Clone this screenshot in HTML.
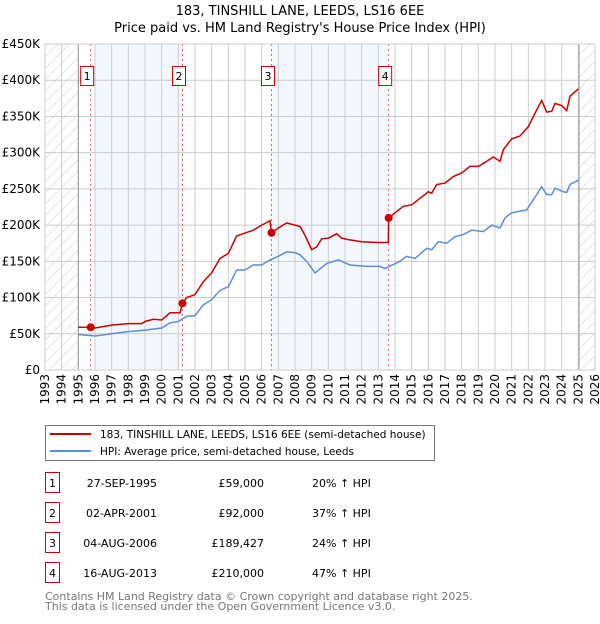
<!DOCTYPE html>
<html><head><meta charset="utf-8"><style>
body{margin:0;background:#fff;font-family:"DejaVu Sans","Liberation Sans",sans-serif;}
svg text{font-family:"DejaVu Sans","Liberation Sans",sans-serif;}
</style></head><body>
<svg id="chart" width="600" height="620" xmlns="http://www.w3.org/2000/svg">
<defs><pattern id="hatch" width="8" height="8" patternUnits="userSpaceOnUse" patternTransform="rotate(45)"><line x1="0" y1="0" x2="0" y2="8" stroke="#ccc" stroke-width="1"/></pattern></defs>
<text x="300" y="15" text-anchor="middle" font-size="13">183, TINSHILL LANE, LEEDS, LS16 6EE</text>
<text x="300" y="32" text-anchor="middle" font-size="13">Price paid vs. HM Land Registry's House Price Index (HPI)</text>
<g id="plot"></g>
<g>
<rect x="45.5" y="425.5" width="389" height="35" fill="#fff" stroke="#777"/>
<line x1="50" y1="434" x2="91" y2="434" stroke="#cc0000" stroke-width="2"/>
<text x="100" y="438" font-size="10.5">183, TINSHILL LANE, LEEDS, LS16 6EE (semi-detached house)</text>
<line x1="50" y1="451" x2="91" y2="451" stroke="#5b8fd4" stroke-width="2"/>
<text x="100" y="455" font-size="10.5">HPI: Average price, semi-detached house, Leeds</text>
</g>
<g id="table" font-size="11"></g>
<text x="45" y="600" font-size="11" fill="#777">Contains HM Land Registry data © Crown copyright and database right 2025.</text>
<text x="45" y="610" font-size="11" fill="#777">This data is licensed under the Open Government Licence v3.0.</text>
</svg>
<script>
const hpiYears=[1995,1996,1997,1998,1999,2000,2000.5,2001,2001.5,2002,2002.5,2003,2003.5,2004,2004.5,2005,2005.5,2006,2006.5,2007,2007.5,2008,2008.3,2008.7,2009.2,2009.9,2010.6,2011.3,2012.3,2013.1,2013.4,2014.3,2014.7,2015.2,2015.9,2016.2,2016.6,2017.1,2017.6,2018.1,2018.6,2019.3,2019.8,2020.3,2020.6,2021,2021.9,2022.3,2022.8,2023.1,2023.4,2023.6,2024.1,2024.3,2024.5,2025];
const hpiValues=[49,47,50,53,55,58,65,67,74,75,90,97,110,115,138,138,145,145,152,157,163,162,159,150,134,147,152,145,143,143,140,150,157,154,168,166,177,175,184,187,193,191,200,196,210,217,221,235,253,242,242,251,246,245,256,262];
const ppYears=[1995,1995.74,1996,1997,1998,1998.8,1999,1999.5,2000,2000.5,2001.1,2001.25,2001.5,2002,2002.5,2003,2003.5,2004,2004.5,2005,2005.5,2006,2006.5,2006.59,2007,2007.5,2008,2008.3,2008.6,2009,2009.3,2009.6,2010,2010.5,2010.8,2011.2,2012,2013,2013.6,2013.62,2014,2014.5,2015,2015.5,2016,2016.2,2016.5,2017,2017.5,2018,2018.5,2019,2019.5,2019.9,2020.3,2020.5,2021,2021.5,2022,2022.5,2022.8,2023.1,2023.4,2023.6,2024,2024.3,2024.5,2025];
const ppValues=[59,59,58,62,64,64,67,70,69,79,79,92,100,104,122,134,154,161,185,189,193,200,206,189,196,203,200,198,186,166,170,181,182,188,182,180,177,176,176,210,217,226,228,237,246,244,256,258,267,272,281,281,288,294,288,304,319,323,336,359,372,356,357,368,365,358,378,388];
const saleYears=[1995.74,2001.25,2006.59,2013.62];
const saleValues=[59,92,189.427,210];
const saleDates=["27-SEP-1995","02-APR-2001","04-AUG-2006","16-AUG-2013"];
const salePrices=["£59,000","£92,000","£189,427","£210,000"];
const salePcts=["20% ↑ HPI","37% ↑ HPI","24% ↑ HPI","47% ↑ HPI"];
const yTicks=[0,50,100,150,200,250,300,350,400,450];
const yTickLabels=["£0","£50K","£100K","£150K","£200K","£250K","£300K","£350K","£400K","£450K"];
const NS="http://www.w3.org/2000/svg";
const X0=45,X1=595,Y0=370,Y1=44;
const xs=y=>X0+(y-1993)/33*(X1-X0);
const ys=v=>Y0-v/450*(Y0-Y1);
const plot=document.getElementById('plot');
function mk(tag,attrs,parent){const e=document.createElementNS(NS,tag);for(const k in attrs)e.setAttribute(k,attrs[k]);(parent||plot).appendChild(e);return e;}
for(const [a,b] of [[1996,saleYears[1]],[saleYears[2],saleYears[3]]]){
const r=mk('rect',{x:xs(a),y:Y1,width:xs(b)-xs(a),height:Y0-Y1,fill:'#eef3fd',opacity:0.7});

}
for(const [a,b] of [[1993,1995],[2025.04,2026]]){
const r=mk('rect',{x:xs(a),y:Y1,width:xs(b)-xs(a),height:Y0-Y1,fill:'url(#hatch)'});

}
for(let yr=1993;yr<=2026;yr++){
const l=mk('line',{x1:xs(yr),x2:xs(yr),y1:Y1,y2:Y0,stroke:'#ccc','stroke-width':1});


const t=mk('text',{x:0,y:0,'font-size':12,'text-anchor':'end',transform:`translate(${xs(yr)+4},374) rotate(-90)`});
t.textContent=yr;

}
yTicks.forEach((v,i)=>{
const l=mk('line',{x1:X0,x2:X1,y1:ys(v),y2:ys(v),stroke:'#ccc','stroke-width':1});


const t=mk('text',{x:40,y:ys(v)+4,'font-size':12,'text-anchor':'end'});
t.textContent=yTickLabels[i];

});
for(const yr of [1995,2025.04]){const l=mk('line',{x1:xs(yr),x2:xs(yr),y1:Y1,y2:Y0,stroke:'#999','stroke-width':1});

}
saleYears.forEach((yr,i)=>{
const l=mk('line',{x1:xs(yr),x2:xs(yr),y1:Y1,y2:Y0,stroke:'#e06060','stroke-width':1,'stroke-dasharray':'2,3'});


const b=mk('rect',{x:xs(yr)-10,y:66.5,width:13,height:19,fill:'#fff',stroke:'#cc0000'});


const t=mk('text',{x:xs(yr)-3.5,y:80,'font-size':11,'text-anchor':'middle'});
t.textContent=i+1;

});
const hp=mk('polyline',{points:hpiYears.map((y,i)=>xs(y)+','+ys(hpiValues[i])).join(' '),fill:'none',stroke:'#5b8fd4','stroke-width':1.5});


const pp=mk('polyline',{points:ppYears.map((y,i)=>xs(y)+','+ys(ppValues[i])).join(' '),fill:'none',stroke:'#cc0000','stroke-width':1.5});


saleYears.forEach((yr,i)=>{const c=mk('circle',{cx:xs(yr),cy:ys(saleValues[i]),r:4,fill:'#cc0000'});

});
mk('rect',{x:X0,y:Y1,width:X1-X0,height:Y0-Y1,fill:'none',stroke:'#ccc'});
const tb=document.getElementById('table');
saleDates.forEach((d,i)=>{const y=483+i*30;
const b=mk('rect',{x:45.5,y:y-10.5,width:14,height:20,fill:'#fff',stroke:'#cc0000'},tb);


const n=mk('text',{x:52.5,y:y+4,'text-anchor':'middle'},tb);n.textContent=i+1;


const a=mk('text',{x:157,y:y+4,'text-anchor':'end'},tb);a.textContent=d;


const p=mk('text',{x:264,y:y+4,'text-anchor':'end'},tb);p.textContent=salePrices[i];


const q=mk('text',{x:312,y:y+4},tb);q.textContent=salePcts[i];

});
</script>
</body></html>
